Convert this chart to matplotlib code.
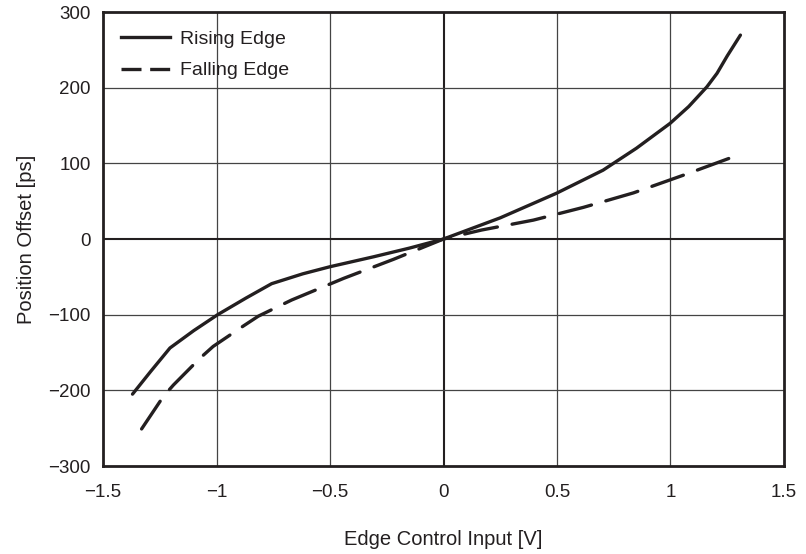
import numpy as np
import matplotlib.pyplot as plt
from matplotlib.lines import Line2D

plt.rcParams['font.family'] = ['Liberation Sans', 'DejaVu Sans']

# rising edge curve
rise_x = [-1.37, -1.29, -1.205, -1.1, -0.995, -0.87, -0.757, -0.62, -0.5, -0.307, -0.15, 0.0,
          0.25, 0.497, 0.703, 0.85, 0.998, 1.08, 1.16, 1.205, 1.25, 1.308]
rise_y = [-205, -175, -144, -121, -100, -78, -59, -46, -36.6, -23.4, -12, 0,
          28, 60.4, 91, 120, 152.8, 175, 201, 219, 242, 269.5]

# falling edge curve
fall_x = [-1.33, -1.234, -1.19, -1.073, -1.015, -0.882, -0.816, -0.669, -0.44, -0.22, 0.0,
          0.168, 0.396, 0.617, 0.837, 1.058, 1.271]
fall_y = [-251, -208, -193, -157.6, -142, -115, -102, -80.6, -52, -26.8, 0,
          11.9, 25, 41.9, 61, 84.5, 108]

xticks = [-1.5, -1, -0.5, 0, 0.5, 1, 1.5]
xtick_labels = ['\u22121.5', '\u22121', '\u22120.5', '0', '0.5', '1', '1.5']
yticks = [-300, -200, -100, 0, 100, 200, 300]
ytick_labels = ['\u2212300', '\u2212200', '\u2212100', '0', '100', '200', '300']

ink = '#231f20'

fig = plt.figure(figsize=(8.06, 5.54), dpi=100)
ax = fig.add_axes([0.1278, 0.1588, 0.8449, 0.8195])

# grid
for xv in xticks[1:-1]:
    if xv == 0:
        ax.axvline(xv, color=ink, lw=1.5, zorder=1)
    else:
        ax.axvline(xv, color='#444444', lw=0.9, zorder=1)
for yv in yticks[1:-1]:
    if yv == 0:
        ax.axhline(yv, color=ink, lw=1.5, zorder=1)
    else:
        ax.axhline(yv, color='#444444', lw=0.9, zorder=1)

ax.plot(rise_x, rise_y, color=ink, lw=2.4, solid_capstyle='round', zorder=3)
ax.plot(fall_x, fall_y, color=ink, lw=2.4, dashes=(10, 4.5), dash_capstyle='round', zorder=3)

ax.set_xlim(-1.5, 1.5)
ax.set_ylim(-300, 300)
ax.set_xticks(xticks)
ax.set_xticklabels(xtick_labels)
ax.set_yticks(yticks)
ax.set_yticklabels(ytick_labels)
ax.tick_params(length=0, labelsize=13.5, colors=ink)
ax.tick_params(axis='x', pad=13)
ax.tick_params(axis='y', pad=9)

for sp in ax.spines.values():
    sp.set_linewidth(2.0)
    sp.set_color(ink)

ax.set_xlabel('Edge Control Input [V]', fontsize=14.5, color=ink, labelpad=21)
ax.set_ylabel('Position Offset [ps]', fontsize=14.5, color=ink, labelpad=9)

# legend handles, dashed one with a shorter pattern so two dashes fit
handles = [Line2D([], [], color=ink, lw=2.4),
           Line2D([], [], color=ink, lw=2.4, dashes=(6, 2.6))]
leg = ax.legend(handles, ['Rising Edge', 'Falling Edge'], loc='upper left', frameon=False,
                fontsize=14, handlelength=2.5, handletextpad=0.5, labelspacing=0.7,
                borderaxespad=0.55)
for t in leg.get_texts():
    t.set_color(ink)

fig.savefig('out.png', dpi=100)
